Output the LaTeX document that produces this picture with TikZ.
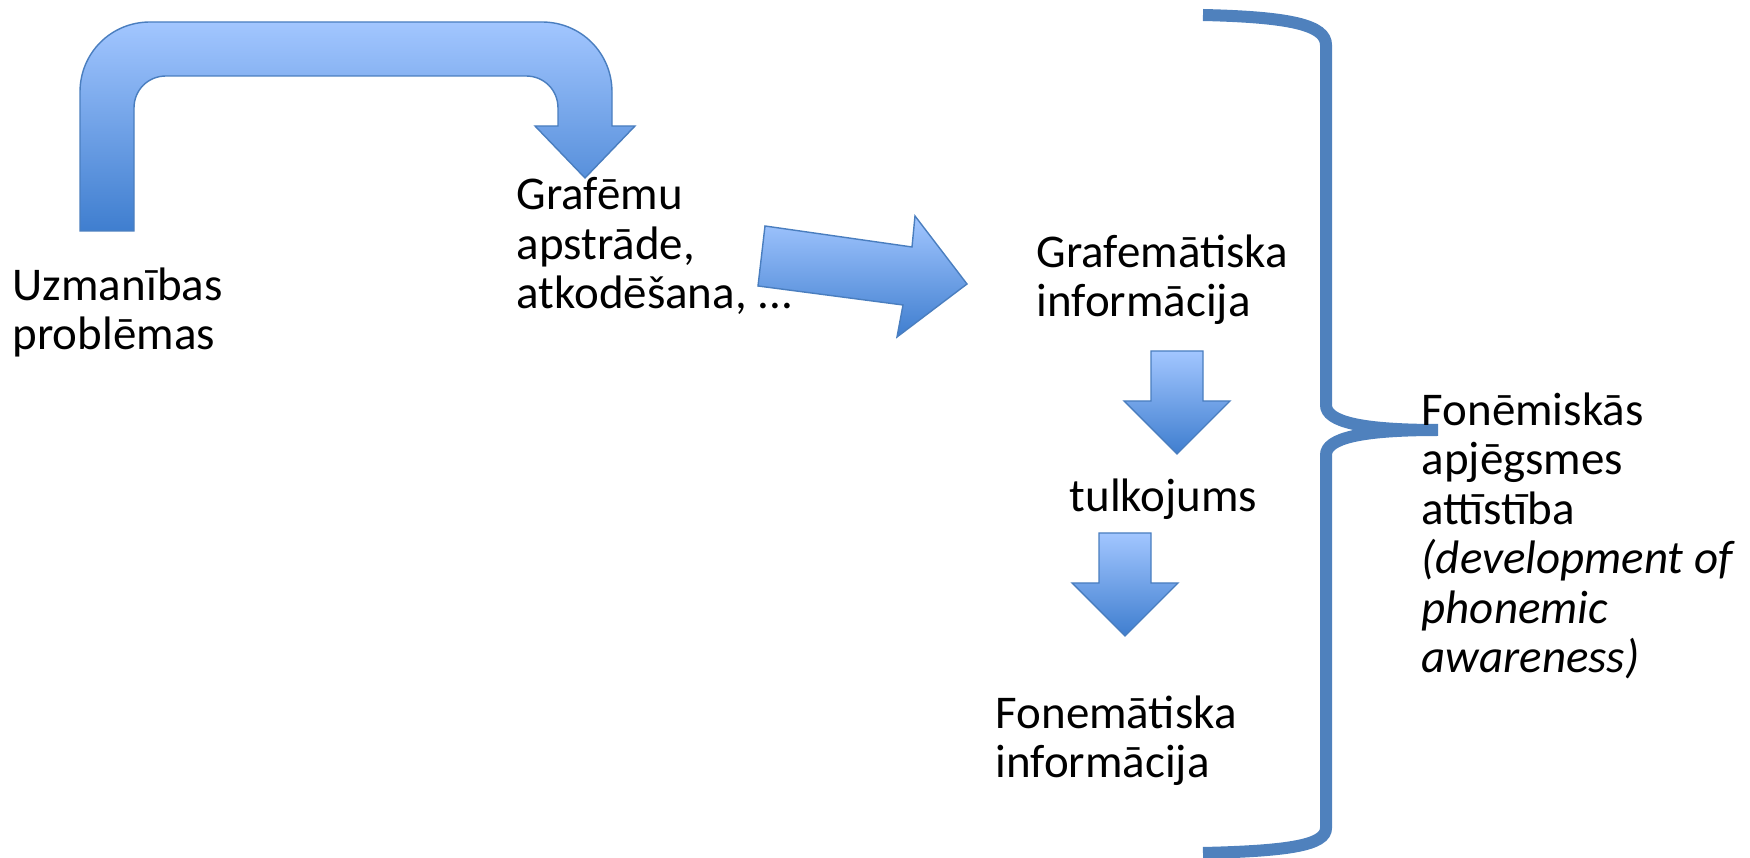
\documentclass[tikz,border=0pt]{standalone}
\usepackage{fontspec}
\setmainfont{Carlito}
\usepackage{tikz}
\definecolor{arrowtop}{HTML}{A2C6FF}
\definecolor{arrowbot}{HTML}{3F7ECF}
\definecolor{arrowline}{HTML}{4A7EBF}
\definecolor{bracecol}{HTML}{4F81BD}
\def\downblock(#1,#2){\draw[blockarrow] (#1-26,#2) -- (#1+26,#2) -- (#1+26,#2+50) -- (#1+53,#2+50) -- (#1,#2+103) -- (#1-53,#2+50) -- (#1-26,#2+50) -- cycle;}

\begin{document}
\begin{tikzpicture}[x=0.01cm, y=-0.01cm,
    blockarrow/.style={draw=arrowline, line width=0.4pt, top color=arrowtop, bottom color=arrowbot},
    txt/.style={anchor=base west, inner sep=0pt, align=left, font=\fontsize{13.35}{14.1}\selectfont}]
		%%%%% START %%%%%
		\useasboundingbox (0,0) rectangle (1750,858);
		
		% bent arrow over the top
		\draw[blockarrow] (80,231) -- (80,92) .. controls (80,53) and (111,22) .. (150,22)
			-- (542,22) .. controls (581,22) and (612,53) .. (612,92)
			-- (612,126) -- (635,126) -- (585,178) -- (535,126) -- (558,126)
			-- (558,108) .. controls (558,90) and (544,76) .. (526,76)
			-- (166,76) .. controls (148,76) and (134,90) .. (134,108)
			-- (134,231) -- cycle;
		
		% tilted arrow
		\draw[blockarrow] (765,226) -- (912,247) -- (915,216) -- (967,284) -- (897,337) -- (903,305) -- (758,286) -- cycle;
		
		% down arrows
		\downblock(1177,351)
		\downblock(1125,533)
		
		% brace
		\draw[bracecol, line width=0.12cm] (1203,15) .. controls (1290,17) and (1326,25) .. (1326,45)
			-- (1326,405) .. controls (1326,422) and (1362,430) .. (1438,430)
			.. controls (1362,430) and (1326,438) .. (1326,455)
			-- (1326,828) .. controls (1326,845) and (1290,851) .. (1203,853);
		
		\node[txt] (attn) at (12,350) {Uzmanības\\problēmas};
		\node[txt] (graph) at (516,309) {Grafēmu\\apstrāde,\\atkodēšana, ...};
		\node[txt] (grinfo) at (1036,317) {Grafemātiska\\informācija};
		\node[txt] (transl) at (1069,512) {tulkojums};
		\node[txt] (phinfo) at (995,778) {Fonemātiska\\informācija};
		\node[txt] (aware) at (1421,673) {Fonēmiskās\\apjēgsmes\\attīstība\\\textit{(development of}\\\textit{phonemic}\\\textit{awareness)}};
		
		%%%%% END %%%%%
\end{tikzpicture}
\end{document}
